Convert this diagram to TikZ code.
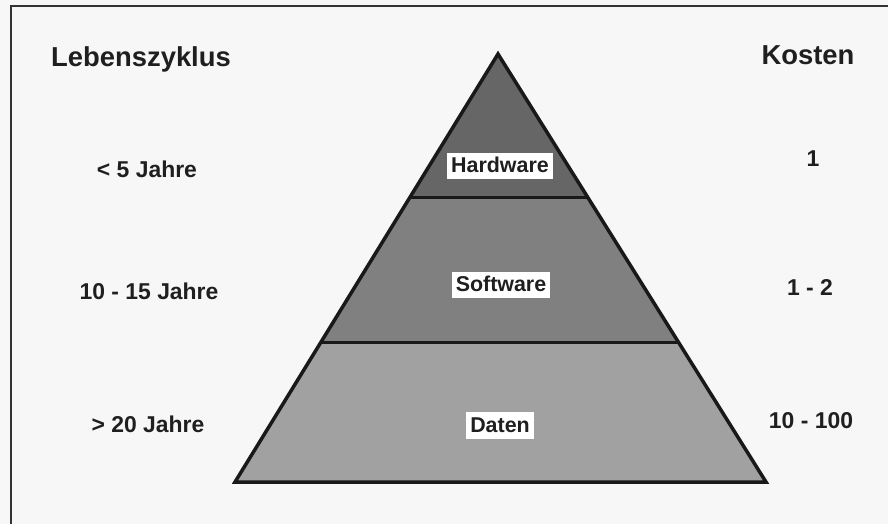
\documentclass[tikz,border=0pt]{standalone}
\usepackage{fontspec}
\setmainfont{Liberation Sans}
\begin{document}
\begin{tikzpicture}[x=1bp,y=-1bp,
  head/.style={font=\bfseries\fontsize{27.5}{31}\selectfont, text=black!88, anchor=base, inner sep=0pt},
  lbl/.style={font=\bfseries\fontsize{23}{27}\selectfont, text=black!88, anchor=base, inner sep=0pt},
  boxlbl/.style={fill=white, font=\bfseries\fontsize{21.5}{24}\selectfont, text=black!88, anchor=base,
     inner xsep=4bp, inner ysep=5bp, text height=15bp, text depth=1.5bp}]
\useasboundingbox (0,0) rectangle (888,524);
\fill[black!3] (0,0) rectangle (888,524);
\draw[line width=2.2bp, black!80] (11,530) -- (11,6) -- (895,6);
% pyramid corners
\coordinate (apex) at (498,54);
\coordinate (bl) at (235,482);
\coordinate (br) at (766,482);
\coordinate (l1) at (409,198);
\coordinate (r1) at (587,198);
\coordinate (l2) at (320,342);
\coordinate (r2) at (678,342);
\fill[black!60] (apex) -- (l1) -- (r1) -- cycle;
\fill[black!50] (l1) -- (l2) -- (r2) -- (r1) -- cycle;
\fill[black!37] (l2) -- (bl) -- (br) -- (r2) -- cycle;
\draw[line width=3bp, black!90] (l1) -- (r1);
\draw[line width=3bp, black!90] (l2) -- (r2);
\draw[line width=3.5bp, black!90, line join=miter] (apex) -- (bl) -- (br) -- cycle;
% layer labels
\node[boxlbl] (hw) at (500,173) {Hardware};
\node[boxlbl] (sw) at (501,292) {Software};
\node[boxlbl] (da) at (500,432) {Daten};
% headings
\node[head] (lz) at (141,67) {Lebenszyklus};
\node[head] (ko) at (808,65) {Kosten};
% left column
\node[lbl] (l5) at (147,178) {< 5 Jahre};
\node[lbl] (l15) at (149,300) {10 - 15 Jahre};
\node[lbl] (l20) at (148,432) {> 20 Jahre};
% right column
\node[lbl] (k1) at (813,167) {1};
\node[lbl] (k2) at (810,296) {1 - 2};
\node[lbl] (k3) at (811,428) {10 - 100};
\end{tikzpicture}
\end{document}
